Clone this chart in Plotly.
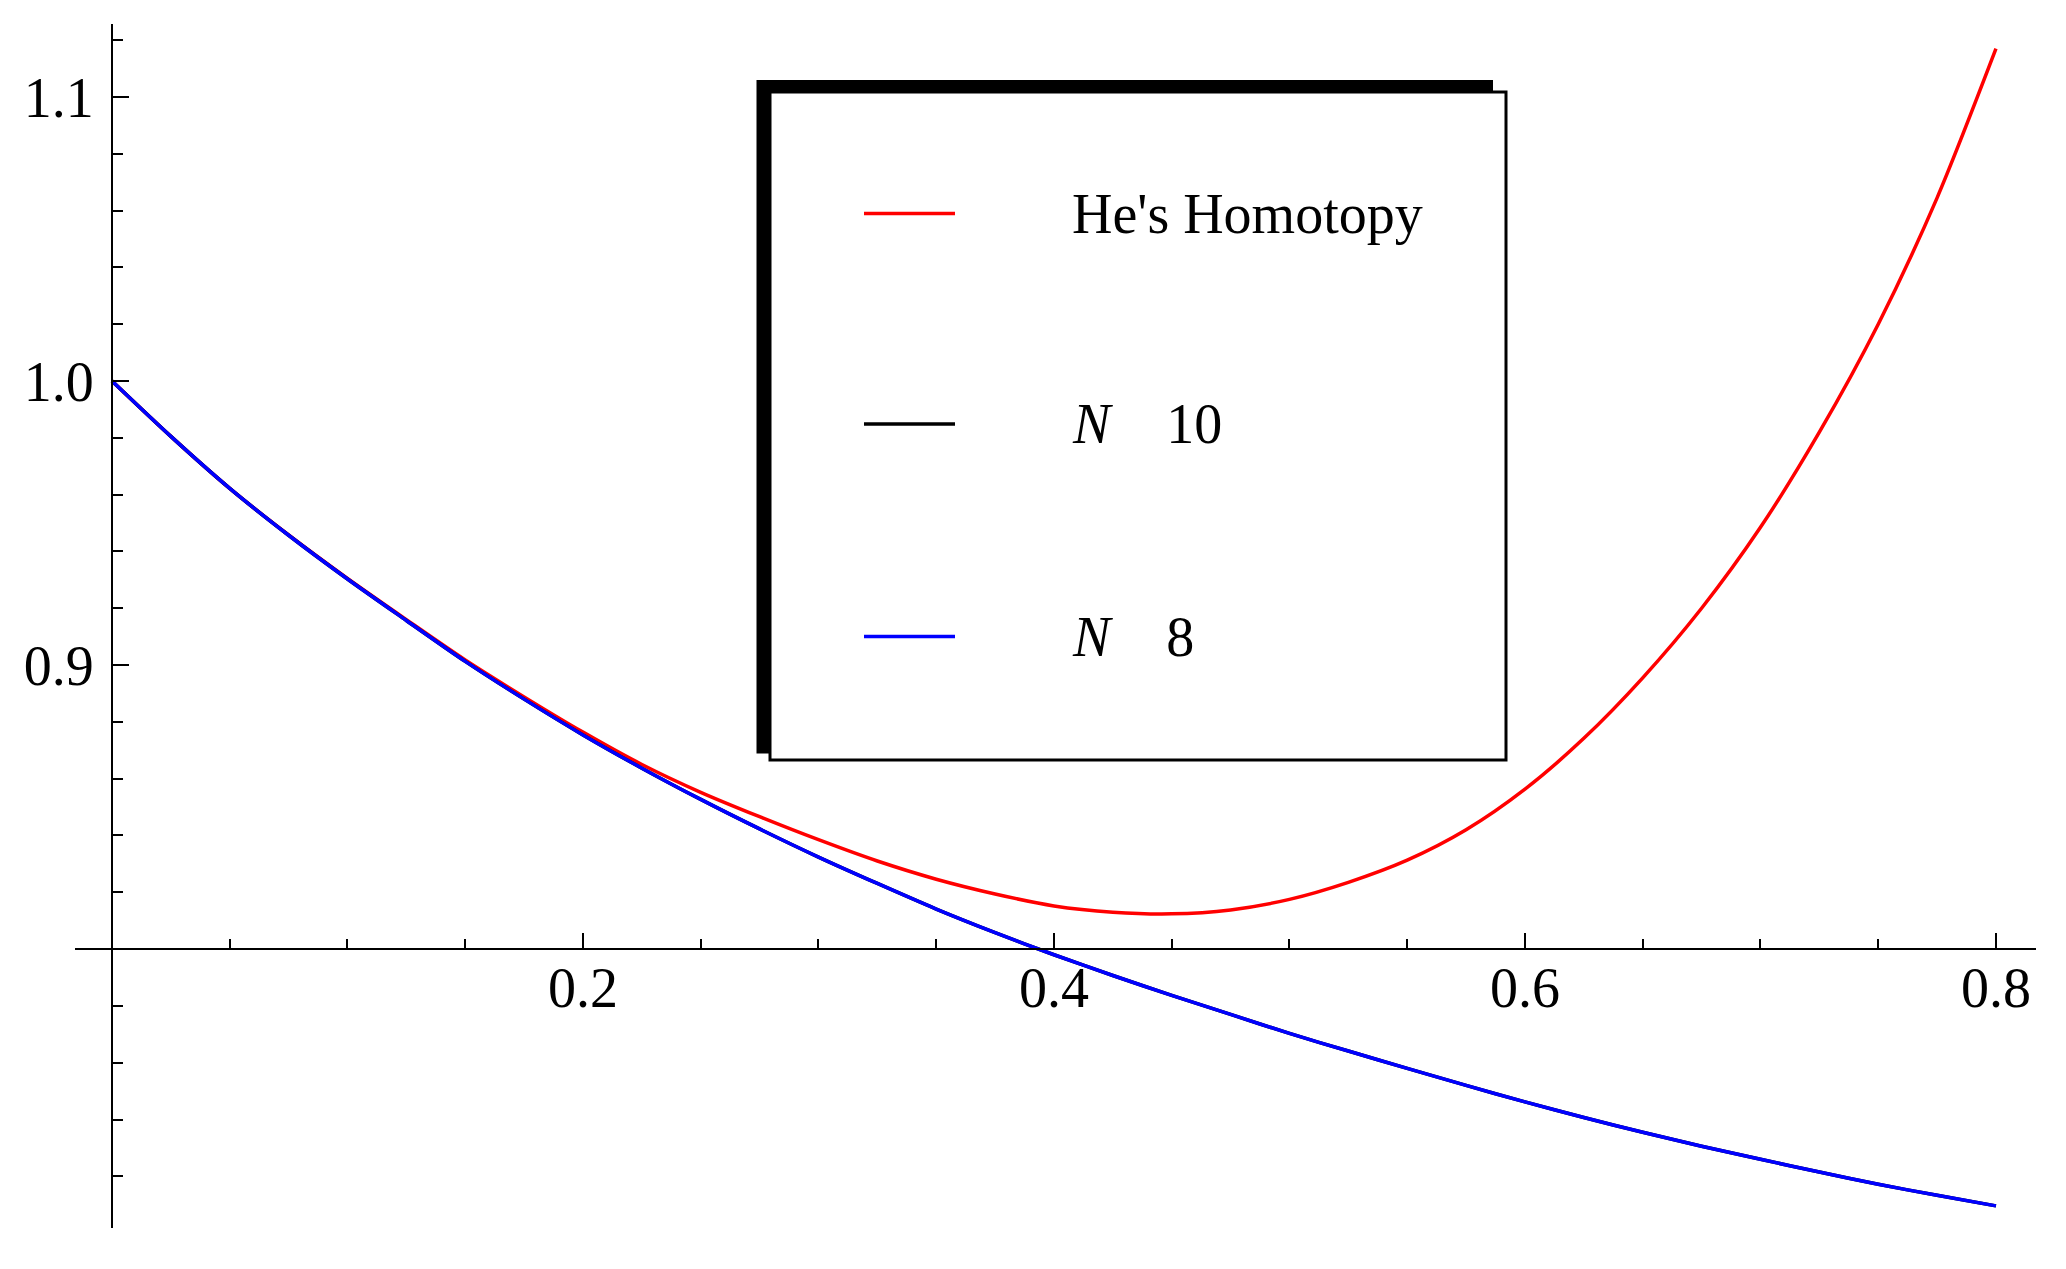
import plotly.graph_objects as go

# page has an 8px body margin; figure sized to fit the 2066x1269 window
OFF = 8
W, H = 2066 - 2 * OFF, 1269 - 2 * OFF

# --- data ---
t = [0.0, 0.025, 0.05, 0.075, 0.1, 0.125, 0.15, 0.175, 0.2, 0.225, 0.25,
     0.275, 0.3, 0.325, 0.35, 0.375, 0.4, 0.425, 0.45, 0.475, 0.5, 0.525,
     0.55, 0.575, 0.6, 0.625, 0.65, 0.675, 0.7, 0.725, 0.75, 0.775, 0.8]

hes_homotopy = [1.0, 0.9805, 0.9622, 0.9458, 0.9305, 0.9160, 0.9018, 0.8888,
                0.8764, 0.8650, 0.8552, 0.8466, 0.8385, 0.8310, 0.8246, 0.8194,
                0.8152, 0.8130, 0.8124, 0.8138, 0.8175, 0.8235, 0.8313, 0.8420,
                0.8563, 0.8742, 0.8955, 0.9200, 0.9485, 0.9820, 1.0200, 1.0645,
                1.1170]

n10 = [1.0, 0.9805, 0.9622, 0.9457, 0.9303, 0.9157, 0.9013, 0.8880, 0.8754,
       0.8637, 0.8527, 0.8423, 0.8324, 0.8231, 0.8141, 0.8058, 0.7980, 0.7907,
       0.7837, 0.7770, 0.7703, 0.7641, 0.7580, 0.7520, 0.7462, 0.7407, 0.7355,
       0.7306, 0.7260, 0.7215, 0.7172, 0.7133, 0.7096]

n8 = [1.0, 0.9805, 0.9622, 0.9457, 0.9303, 0.9157, 0.9013, 0.8880, 0.8754,
      0.8637, 0.8527, 0.8423, 0.8324, 0.8231, 0.8141, 0.8058, 0.7980, 0.7907,
      0.7837, 0.7770, 0.7703, 0.7641, 0.7580, 0.7520, 0.7462, 0.7407, 0.7355,
      0.7306, 0.7260, 0.7215, 0.7172, 0.7133, 0.7096]

x_ticks = [0.2, 0.4, 0.6, 0.8]
x_tick_text = ["0.2", "0.4", "0.6", "0.8"]
y_ticks = [0.9, 1.0, 1.1]
y_tick_text = ["0.9", "1.0", "1.1"]

series_names = ["He's Homotopy", "N = 10", "N = 8"]
legend_text = ["He's Homotopy",
               "<i>N</i>\u00a0\u00a0\u00a0\u00a010",
               "<i>N</i>\u00a0\u00a0\u00a0\u00a08"]
colors = ["#ff0000", "#000000", "#0000ff"]

FONT = "Liberation Serif, Times New Roman, serif"

X_RANGE = [-0.0157, 0.817]
Y_RANGE = [0.7018, 1.1257]
ORIGIN = (0.0, 0.8)  # where the axes cross


# screen pixel -> paper fraction
def px(x):
    return (x - OFF) / W


def py(y):
    return 1 - (y - OFF) / H


X_DOM = [px(75), px(2036)]
Y_DOM = [py(1228), py(24)]

fig = go.Figure()
for name, ys, c in zip(series_names, [hes_homotopy, n10, n8], colors):
    fig.add_trace(go.Scatter(
        x=t, y=ys, mode="lines", name=name,
        line=dict(color=c, width=3.5, shape="spline", smoothing=0.8),
        showlegend=False,
    ))

# axes crossing at (0, 0.8)
ypos = X_DOM[0] + (ORIGIN[0] - X_RANGE[0]) / (X_RANGE[1] - X_RANGE[0]) * (X_DOM[1] - X_DOM[0])
xpos = Y_DOM[0] + (ORIGIN[1] - Y_RANGE[0]) / (Y_RANGE[1] - Y_RANGE[0]) * (Y_DOM[1] - Y_DOM[0])

fig.update_xaxes(
    range=X_RANGE, domain=X_DOM, anchor="free", position=xpos,
    showline=True, linecolor="black", linewidth=2,
    showgrid=False, zeroline=False, automargin=False,
    tickmode="array", tickvals=x_ticks, ticktext=x_tick_text,
    ticks="inside", ticklen=15, tickwidth=2, tickcolor="black",
    ticklabelstandoff=-10,
    minor=dict(tickmode="linear", tick0=0, dtick=0.05, ticks="inside",
               ticklen=9, tickwidth=2, tickcolor="black", showgrid=False),
    tickfont=dict(family=FONT, size=56, color="black"),
)
fig.update_yaxes(
    range=Y_RANGE, domain=Y_DOM, anchor="free", position=ypos,
    showline=True, linecolor="black", linewidth=2,
    showgrid=False, zeroline=False, automargin=False,
    tickmode="array", tickvals=y_ticks, ticktext=y_tick_text,
    ticks="inside", ticklen=16, tickwidth=2, tickcolor="black",
    ticklabelstandoff=6,
    minor=dict(tickmode="linear", tick0=0, dtick=0.02, ticks="inside",
               ticklen=10, tickwidth=2, tickcolor="black", showgrid=False),
    tickfont=dict(family=FONT, size=56, color="black"),
)

# --- legend box, Mathematica style with shadow on top/left ---
shapes = [
    dict(type="rect", xref="paper", yref="paper",
         x0=px(756.5), x1=px(1493), y0=py(753.5), y1=py(80),
         fillcolor="black", line=dict(width=0), layer="above"),
    dict(type="rect", xref="paper", yref="paper",
         x0=px(770), x1=px(1506), y0=py(760), y1=py(92),
         fillcolor="white", line=dict(color="black", width=3), layer="above"),
]
annotations = []
rows = [213.5, 424, 636.5]
for label, c, ry in zip(legend_text, colors, rows):
    shapes.append(dict(type="line", xref="paper", yref="paper",
                       x0=px(864), x1=px(955), y0=py(ry), y1=py(ry),
                       line=dict(color=c, width=3.5), layer="above"))
    annotations.append(dict(xref="paper", yref="paper", x=px(1070), y=py(ry),
                            xanchor="left", yanchor="middle", text=label,
                            showarrow=False,
                            font=dict(family=FONT, size=56, color="black")))

fig.update_layout(
    width=W, height=H,
    margin=dict(l=0, r=0, t=0, b=0),
    paper_bgcolor="white", plot_bgcolor="white",
    shapes=shapes, annotations=annotations,
    showlegend=False,
)

fig.write_html("out.html")
